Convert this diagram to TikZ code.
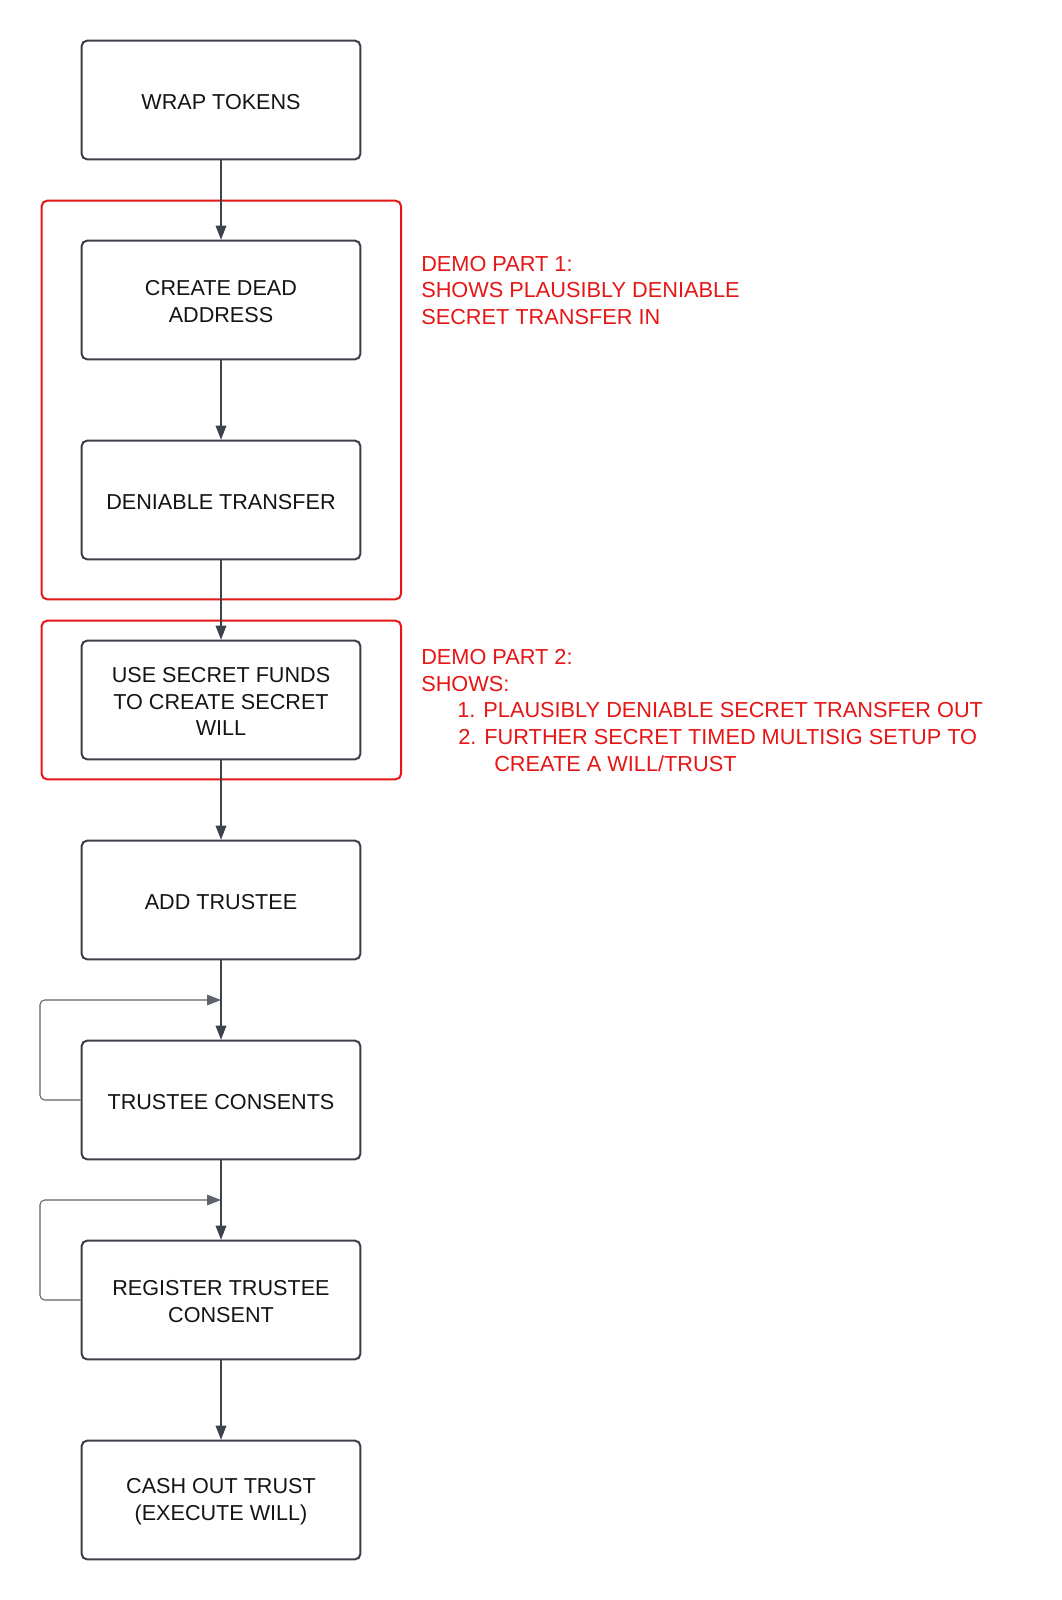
\documentclass[tikz,border=0pt]{standalone}
\usepackage{fontspec}
\setmainfont{Liberation Sans}
\usetikzlibrary{arrows.meta}
\definecolor{boxc}{RGB}{60,65,73}
\definecolor{linec}{RGB}{62,67,75}
\definecolor{loopc}{RGB}{95,100,108}
\definecolor{redc}{RGB}{230,22,22}
\definecolor{txtc}{RGB}{20,20,20}
\begin{document}
\begin{tikzpicture}[x=0.75pt,y=-0.75pt,
  stepbox/.style={draw=boxc, line width=1.5pt, rounded corners=4pt, minimum width=209pt, minimum height=89pt, align=center, text=txtc, font=\fontsize{16.2}{20}\selectfont, inner sep=0pt},
  steptext/.style={text=txtc, align=center, font=\fontsize{16.2}{20}\selectfont, inner sep=0pt},
  flow/.style={draw=linec, line width=0.8pt, -{Triangle[length=10.5pt,width=8pt]}},
  loopline/.style={draw=loopc, line width=0.8pt, rounded corners=3.5pt, -{Triangle[length=10.5pt,width=8pt]}},
  groupbox/.style={draw=redc, line width=1.5pt, rounded corners=4pt},
  redtext/.style={anchor=base west, text=redc, font=\fontsize{16.3}{20}\selectfont, inner sep=0pt}
]
\useasboundingbox (0,0) rectangle (1061,1600);
\fill[white] (0,0) rectangle (1061,1600);

% group frames
\draw[groupbox] (41.7,200.7) rectangle (401,599.3);
\draw[groupbox] (41.7,620.7) rectangle (401,779.3);

% boxes
\node[stepbox] (b1) at (221,100) {};
\node[stepbox] (b2) at (221,300) {};
\node[stepbox] (b3) at (221,500) {};
\node[stepbox] (b4) at (221,700) {};
\node[stepbox] (b5) at (221,900) {};
\node[stepbox] (b6) at (221,1100) {};
\node[stepbox] (b7) at (221,1300) {};
\node[stepbox] (b8) at (221,1500) {};

\node[steptext] (l1) at (221,102) {WRAP TOKENS};
\node[steptext] (l2) at (221,301.5) {CREATE DEAD\\ADDRESS};
\node[steptext] (l3) at (221,502) {DENIABLE TRANSFER};
\node[steptext] (l4) at (221,701.5) {USE SECRET FUNDS\\TO CREATE SECRET\\WILL};
\node[steptext] (l5) at (221,902) {ADD TRUSTEE};
\node[steptext] (l6) at (221,1102) {TRUSTEE CONSENTS};
\node[steptext] (l7) at (221,1301.5) {REGISTER TRUSTEE\\CONSENT};
\node[steptext] (l8) at (221,1501.5) {CASH OUT TRUST\\(EXECUTE WILL)};

% arrows
\draw[flow] (b1) -- (b2);
\draw[flow] (b2) -- (b3);
\draw[flow] (b3) -- (b4);
\draw[flow] (b4) -- (b5);
\draw[flow] (b5) -- (b6);
\draw[flow] (b6) -- (b7);
\draw[flow] (b7) -- (b8);

% loops
\coordinate (m1) at (221,1000);
\coordinate (m2) at (221,1200);
\draw[loopline] (b6.west) -- (40,1100) -- (40,1000) -- (m1);
\draw[loopline] (b7.west) -- (40,1300) -- (40,1200) -- (m2);

% annotations
\node[redtext] (t1) at (421,271) {DEMO PART 1:};
\node[redtext] (t2) at (421,297.7) {SHOWS PLAUSIBLY DENIABLE};
\node[redtext] (t3) at (421,324.3) {SECRET TRANSFER IN};

\node[redtext] (u1) at (421,664) {DEMO PART 2:};
\node[redtext] (u2) at (421,691) {SHOWS:};
\node[redtext] (u3) at (457,717.5) {1. PLAUSIBLY DENIABLE SECRET TRANSFER OUT};
\node[redtext] (u4) at (458,744) {2. FURTHER SECRET TIMED MULTISIG SETUP TO};
\node[redtext] (u5) at (494,771) {CREATE A WILL/TRUST};
\end{tikzpicture}
\end{document}
